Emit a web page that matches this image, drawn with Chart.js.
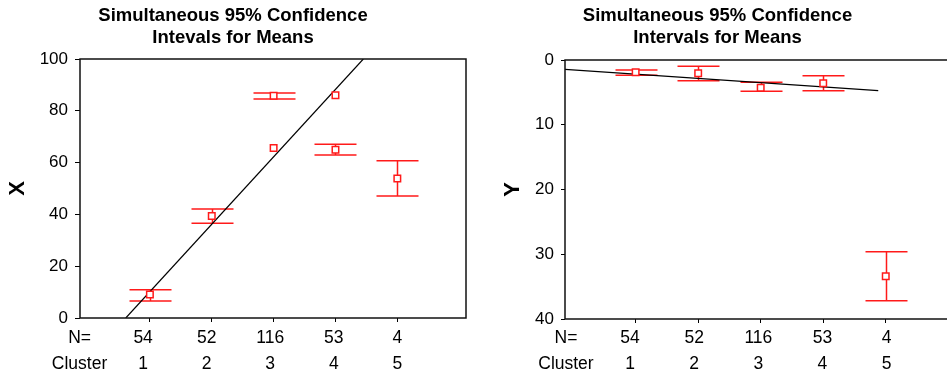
<!DOCTYPE html>
<html>
<head>
<meta charset="utf-8">
<script src="https://cdn.jsdelivr.net/npm/chart.js@4.4.1/dist/chart.umd.min.js"></script>
<style>
  html, body { margin: 0; padding: 0; background: #fff; }
  body { width: 947px; height: 377px; overflow: hidden; position: relative; }
  .box { position: absolute; top: 0; height: 377px; }
</style>
</head>
<body>
<div class="box" style="left:0;width:473px"><canvas id="chartX" width="473" height="377"></canvas></div>
<div class="box" style="left:480px;width:480px"><canvas id="chartY" width="480" height="377"></canvas></div>
<script>
// categories
const clusters = [1, 2, 3, 4, 5];
const nCounts = [54, 52, 116, 53, 4];

// X panel: means and 95% limits
const xMean = [9.1, 39.4, 85.8, 65.0, 53.9];
const xLow = [6.6, 36.6, 84.6, 62.9, 47.1];
const xHigh = [10.9, 42.1, 86.9, 67.1, 60.7];
// extra means drawn without bars
const xExtraCluster = [3, 4];
const xExtraMean = [65.6, 86.0];
// fitted line (cluster, value)
const xFitCluster = [0.61, 4.45];
const xFitValue = [0, 100];

// Y panel
const yMean = [1.9, 2.06, 4.27, 3.6, 33.4];
const yLow = [1.54, 0.98, 3.45, 2.42, 29.6];
const yHigh = [2.37, 3.2, 4.84, 4.74, 37.2];
const yFitCluster = [-0.13, 4.88];
const yFitValue = [1.44, 4.74];

const yTicksX = [0, 20, 40, 60, 80, 100];
const yTicksY = [0, 10, 20, 30, 40];

Chart.defaults.font.family = '"Liberation Sans", Arial, sans-serif';
Chart.defaults.color = '#000';

const RED = '#ff1a1a';

const errorBars = {
  id: 'errorBars',
  beforeDatasetsDraw(chart, args, opts) {
    const { ctx } = chart;
    const x = chart.scales.x, y = chart.scales.y;
    ctx.save();
    ctx.strokeStyle = RED;
    ctx.lineWidth = 1.5;
    opts.low.forEach((lo, i) => {
      const px = Math.round(x.getPixelForValue(opts.cats[i])) + 0.5;
      const pLo = y.getPixelForValue(lo);
      const pHi = y.getPixelForValue(opts.high[i]);
      ctx.beginPath();
      ctx.moveTo(px, pLo); ctx.lineTo(px, pHi);
      ctx.moveTo(px - 21, pLo); ctx.lineTo(px + 21, pLo);
      ctx.moveTo(px - 21, pHi); ctx.lineTo(px + 21, pHi);
      ctx.stroke();
    });
    ctx.restore();
  },
  afterDraw(chart) {
    const { ctx, chartArea: a } = chart;
    ctx.save();
    ctx.strokeStyle = '#111';
    ctx.lineWidth = 1.5;
    ctx.strokeRect(a.left, a.top, a.right - a.left, a.bottom - a.top);
    ctx.restore();
  }
};

function makeChart(id, cfg) {
  const pts = clusters.map((c, i) => ({ x: c, y: cfg.mean[i] }));
  const extra = (cfg.extraCluster || []).map((c, i) => ({ x: c, y: cfg.extraMean[i] }));
  const fit = cfg.fitCluster.map((c, i) => ({ x: c, y: cfg.fitValue[i] }));
  return new Chart(document.getElementById(id), {
    type: 'scatter',
    data: {
      datasets: [
        {
          data: pts.concat(extra),
          pointStyle: 'rect',
          pointRadius: 4.6,
          borderColor: RED,
          backgroundColor: '#fff',
          borderWidth: 1.5
        },
        {
          type: 'line',
          data: fit,
          borderColor: '#000',
          borderWidth: 1.2,
          pointRadius: 0,
          fill: false
        }
      ]
    },
    options: {
      responsive: false,
      animation: false,
      layout: { padding: { left: 0, right: cfg.padRight, top: 0, bottom: 0 } },
      plugins: {
        legend: { display: false },
        tooltip: { enabled: false },
        title: {
          display: true,
          text: cfg.title,
          font: { size: 18.5, weight: 'bold', lineHeight: 1.2 },
          color: '#000',
          padding: { top: 5, bottom: cfg.titleBottom }
        },
        errorBars: { cats: clusters, low: cfg.low, high: cfg.high }
      },
      scales: {
        x: {
          type: 'linear',
          position: 'bottom',
          min: cfg.xMin,
          max: cfg.xMax,
          weight: 0,
          afterBuildTicks: s => { s.ticks = clusters.map(v => ({ value: v })); },
          afterFit: s => { s.height = 4; },
          ticks: { display: false },
          grid: { drawOnChartArea: false, drawTicks: true, tickLength: 4, color: '#000', lineWidth: 1 },
          border: { display: false }
        },
        lab: {
          type: 'linear',
          position: 'bottom',
          min: cfg.labMin,
          max: cfg.labMax,
          weight: 1,
          afterBuildTicks: s => { s.ticks = [0, 1, 2, 3, 4, 5].map(v => ({ value: v })); },
          afterFit: s => { s.height = cfg.labHeight; },
          ticks: {
            autoSkip: false,
            maxRotation: 0,
            padding: cfg.labPad,
            font: { size: 17.5, lineHeight: 26 / 17.5 },
            color: '#000',
            callback: v => v === 0 ? ['N=', 'Cluster'] : [String(nCounts[v - 1]), String(clusters[v - 1])]
          },
          grid: { display: false },
          border: { display: false }
        },
        y: {
          type: 'linear',
          min: cfg.yMin,
          max: cfg.yMax,
          reverse: cfg.reverse,
          afterBuildTicks: s => { s.ticks = cfg.yTicks.map(v => ({ value: v })); },
          afterFit: s => { s.width = cfg.yWidth; },
          ticks: { padding: 7, font: { size: 17 }, color: '#000' },
          grid: { drawOnChartArea: false, drawTicks: true, tickLength: cfg.yTick, color: '#000', lineWidth: 1 },
          border: { display: false },
          title: {
            display: true,
            text: cfg.axisTitle,
            font: { size: 22, weight: 'bold', lineHeight: 1.2 },
            color: '#000',
            padding: { top: cfg.titlePad, bottom: 0 }
          }
        }
      }
    },
    plugins: [errorBars]
  });
}

makeChart('chartX', {
  title: ['Simultaneous 95% Confidence', 'Intevals for Means'],
  axisTitle: 'X',
  mean: xMean, low: xLow, high: xHigh,
  extraCluster: xExtraCluster, extraMean: xExtraMean,
  fitCluster: xFitCluster, fitValue: xFitValue,
  yMin: 0, yMax: 100, reverse: false, yTicks: yTicksX,
  xMin: -0.13, xMax: 6.11, labMin: 0.007, labMax: 6.08,
  yWidth: 80, yTick: 5, titlePad: 4.3, padRight: 7,
  titleBottom: 9.6, labPad: -5, labHeight: 55
});

makeChart('chartY', {
  title: ['Simultaneous 95% Confidence', 'Intervals for Means'],
  axisTitle: 'Y',
  mean: yMean, low: yLow, high: yHigh,
  fitCluster: yFitCluster, fitValue: yFitValue,
  yMin: 0, yMax: 40, reverse: true, yTicks: yTicksY,
  xMin: -0.13, xMax: 6.09, labMin: -0.015, labMax: 6.05,
  yWidth: 85, yTick: 4, titlePad: 19.3, padRight: 5,
  titleBottom: 10.6, labPad: -6, labHeight: 54
});
</script>
</body>
</html>
